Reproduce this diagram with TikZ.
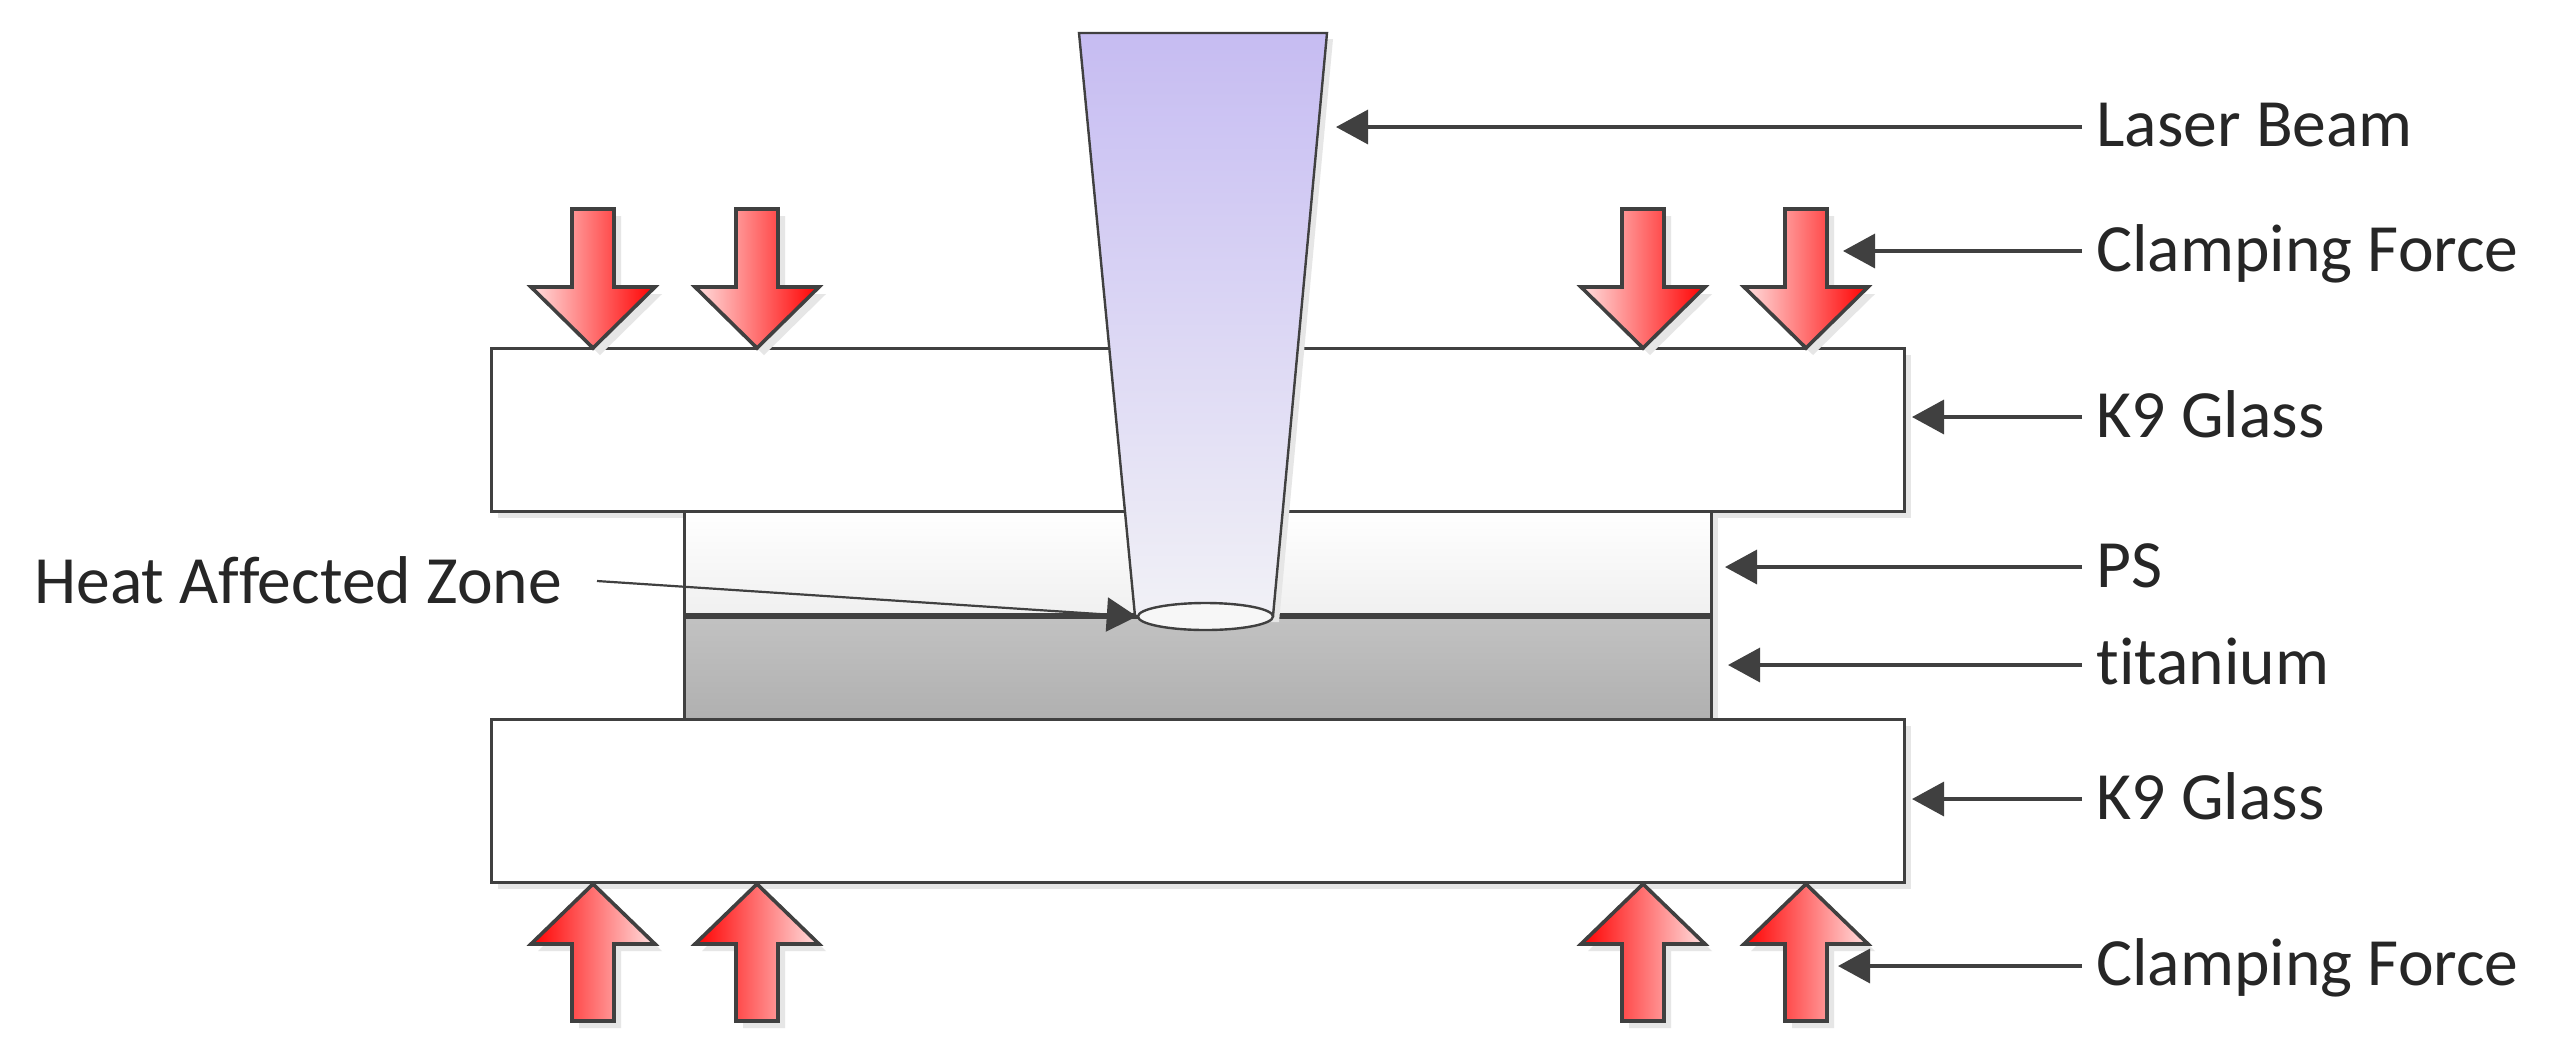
\documentclass[tikz,border=0pt]{standalone}
\usepackage{fontspec}
\setmainfont{Carlito}[Ligatures=NoCommon]
\usetikzlibrary{arrows.meta,shapes.geometric}
\definecolor{ink}{HTML}{404040}
\definecolor{shadowgrey}{HTML}{E6E6E6}
\definecolor{beamtop}{HTML}{C6BCF2}
\definecolor{beambottom}{HTML}{F1F1F6}
\tikzset{
  x=0.5pt,y=-0.5pt,
  outline/.style={draw=ink,line width=1.5pt,line join=miter},
  shadowfill/.style={fill=shadowgrey,draw=none},
  lab/.style={anchor=base west,inner sep=0pt,font=\fontsize{33.8pt}{36pt}\selectfont,text=black!85},
  leader/.style={draw=ink,line width=1.7pt,-{Triangle[length=16pt,width=17pt]}},
  thinleader/.style={draw=ink,line width=1.1pt,-{Triangle[length=15pt,width=17pt]}},
  downforce/.style={outline,line width=1.8pt,left color=red!12,right color=red},
  upforce/.style={outline,line width=1.8pt,left color=red,right color=red!12},
}
\newcommand{\downarrowshape}[1]{(#1-21,209) -- (#1+21,209) -- (#1+21,287) -- (#1+62,287) -- (#1,348) -- (#1-62,287) -- (#1-21,287) -- cycle}
\newcommand{\uparrowshape}[1]{(#1-21,1021) -- (#1+21,1021) -- (#1+21,944) -- (#1+62,944) -- (#1,884) -- (#1-62,944) -- (#1-21,944) -- cycle}
\begin{document}
\begin{tikzpicture}
\useasboundingbox (0,0) rectangle (2558,1056);
\fill[white] (0,0) rectangle (2558,1056);
% shadows of the plates and layers
\fill[shadowfill] (498,355) rectangle (1911,518);
\fill[shadowfill] (498,726) rectangle (1911,889);
\fill[shadowfill] (691,518) rectangle (1718,726);
% plates
\path[outline,fill=white] (491,348) rectangle (1904,511);
\path[outline,fill=white] (491,719) rectangle (1904,882);
% PS and titanium
\path[outline,top color=white,bottom color=black!6] (684,511) rectangle (1711,616);
\path[outline,top color=black!24,bottom color=black!31] (684,616) rectangle (1711,719);
\draw[ink,line width=3pt] (684,616) -- (1711,616);
% force arrows
\foreach \c in {593,757,1643,1806}{
  \fill[shadowfill,xshift=3.5pt,yshift=-3.5pt] \downarrowshape{\c};
  \path[downforce] \downarrowshape{\c};
  \fill[shadowfill,xshift=3.5pt,yshift=-3.5pt] \uparrowshape{\c};
  \path[upforce] \uparrowshape{\c};
}
% beam
\fill[shadowfill,xshift=3pt,yshift=-3pt] (1079,33) -- (1327,33) -- (1273,616) -- (1135,616) -- cycle;
\path[draw=ink,line width=1.2pt,top color=beamtop,bottom color=beambottom] (1079,33) -- (1327,33) -- (1273,616) -- (1135,616) -- cycle;
\node[ellipse,draw=ink,line width=1.2pt,fill=white!97!black,minimum width=67.5pt,minimum height=13.5pt,inner sep=0pt] (hz) at (1205.5,616.5) {};
% labels
\node[lab] (laser) at (2096,146) {Laser Beam};
\node[lab] (cf1) at (2096,271) {Clamping Force};
\node[lab] (k1) at (2096,437) {K9 Glass};
\node[lab] (ps) at (2096,587) {PS};
\node[lab] (ti) at (2096,684) {titanium};
\node[lab] (k2) at (2096,819) {K9 Glass};
\node[lab] (cf2) at (2096,985) {Clamping Force};
\node[lab] (heat) at (34,603) {Heat Affected Zone};
% connector ends
\coordinate (tlaser) at (1336,127);
\coordinate (tcf1) at (1843,251);
\coordinate (tk1) at (1912,417);
\coordinate (tps) at (1725,567);
\coordinate (tti) at (1728,665);
\coordinate (tk2) at (1912,799);
\coordinate (tcf2) at (1838,966);
\coordinate (sheat) at (597,581);
\draw[leader] (laser.west |- tlaser) ++(-14,0) -- (tlaser);
\draw[leader] (cf1.west |- tcf1) ++(-14,0) -- (tcf1);
\draw[leader] (k1.west |- tk1) ++(-14,0) -- (tk1);
\draw[leader] (ps.west |- tps) ++(-14,0) -- (tps);
\draw[leader] (ti.west |- tti) ++(-14,0) -- (tti);
\draw[leader] (k2.west |- tk2) ++(-14,0) -- (tk2);
\draw[leader] (cf2.west |- tcf2) ++(-14,0) -- (tcf2);
\draw[thinleader] (sheat) -- (hz.west);
\end{tikzpicture}
\end{document}
